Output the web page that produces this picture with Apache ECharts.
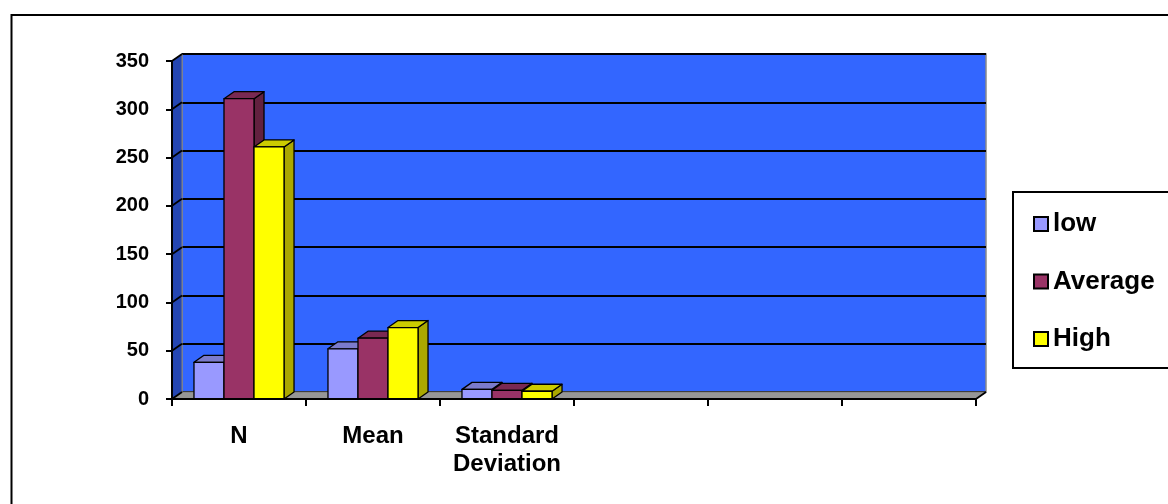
<!DOCTYPE html>
<html>
<head>
<meta charset="utf-8">
<script src="https://cdn.jsdelivr.net/npm/echarts@6/dist/echarts.min.js"></script>
<style>
  html, body { margin: 0; padding: 0; background: #ffffff; }
  #chart { width: 1168px; height: 504px; }
</style>
</head>
<body>
<div id="chart"></div>
<script>
// Categories on the horizontal axis (three used, three empty slots)
const categories = ['N', 'Mean', 'Standard\nDeviation', '', '', ''];

// Series values, one per used category
const seriesNames = ['low', 'Average', 'High'];
const lowValues = [38, 52, 10];
const averageValues = [311, 63, 9];
const highValues = [261, 74, 8];

// Value axis range
const yMin = 0;
const yMax = 350;
const yStep = 50;

// Face colours of each 3D column: front, top, side
const palettes = [
  { front: '#9999ff', top: '#7b7bcc', side: '#6666b0' },
  { front: '#993366', top: '#7a2952', side: '#62213f' },
  { front: '#ffff00', top: '#cccc00', side: '#aaa800' }
];

// Depth offset used for the pseudo-3D walls and columns
const DX = 10;
const DY = -7;
const BAR_RATIO = 0.224;
const FONT = 'Liberation Sans, Arial, sans-serif';

const chart = echarts.init(document.getElementById('chart'));

// Left side wall, floor and the gridline returns on the side wall
function renderWalls(params, api) {
  const cs = params.coordSys;
  const L = cs.x, T = cs.y, R = cs.x + cs.width, B = cs.y + cs.height;
  const children = [
    {
      type: 'polygon',
      shape: { points: [[L, T], [L + DX, T + DY], [L + DX, B + DY], [L, B]] },
      style: { fill: '#2446b3', stroke: '#808080', lineWidth: 1 }
    },
    {
      type: 'polygon',
      shape: { points: [[L, B], [R, B], [R + DX, B + DY], [L + DX, B + DY]] },
      style: { fill: '#969696', stroke: '#7a7a7a', lineWidth: 1 }
    }
  ];
  for (let v = yMin; v <= yMax; v += yStep) {
    const y = api.coord([0, v])[1];
    children.push({
      type: 'line',
      shape: { x1: L, y1: y, x2: L + DX, y2: y + DY },
      style: { stroke: '#000', lineWidth: 1.8 }
    });
  }
  children.push({
    type: 'line',
    shape: { x1: R, y1: B, x2: R + DX, y2: B + DY },
    style: { stroke: '#000', lineWidth: 1.8 }
  });
  return { type: 'group', children: children };
}

// One 3D column: side face, top face, then front face
function makeBarRenderer(slot, palette) {
  return function (params, api) {
    const cat = api.value(0);
    const val = api.value(1);
    const base = api.coord([cat, 0]);
    const head = api.coord([cat, val]);
    const band = api.size([1, 0])[0];
    const w = band * BAR_RATIO;
    const x0 = base[0] - 1.5 * w + slot * w;
    const x1 = x0 + w;
    const yT = head[1];
    const yB = base[1];
    const edge = { stroke: '#000', lineWidth: 1.3, lineJoin: 'round' };
    return {
      type: 'group',
      children: [
        {
          type: 'polygon',
          shape: { points: [[x1, yT], [x1 + DX, yT + DY], [x1 + DX, yB + DY], [x1, yB]] },
          style: Object.assign({ fill: palette.side }, edge)
        },
        {
          type: 'polygon',
          shape: { points: [[x0, yT], [x1, yT], [x1 + DX, yT + DY], [x0 + DX, yT + DY]] },
          style: Object.assign({ fill: palette.top }, edge)
        },
        {
          type: 'rect',
          shape: { x: x0, y: yT, width: w, height: yB - yT },
          style: Object.assign({ fill: palette.front }, edge)
        }
      ]
    };
  };
}

const valueSets = [lowValues, averageValues, highValues];

const barSeries = seriesNames.map(function (name, idx) {
  return {
    type: 'custom',
    name: name,
    xAxisIndex: 0,
    yAxisIndex: 0,
    z: 5,
    clip: false,
    itemStyle: { color: palettes[idx].front },
    renderItem: makeBarRenderer(idx, palettes[idx]),
    encode: { x: 0, y: 1 },
    data: valueSets[idx].map(function (v, i) { return [i, v]; })
  };
});

const option = {
  animation: false,
  backgroundColor: '#ffffff',
  graphic: [
    {
      type: 'rect',
      shape: { x: 11.5, y: 15, width: 1200, height: 520 },
      style: { fill: 'none', stroke: '#000', lineWidth: 2 },
      z: 0
    }
  ],
  grid: [
    { left: 172, top: 61, right: 192, bottom: 105, outerBoundsMode: 'none' },
    {
      left: 182, top: 54, right: 182, bottom: 112, outerBoundsMode: 'none',
      show: true, backgroundColor: '#3366ff', borderColor: '#8a8a8a', borderWidth: 1.5
    }
  ],
  xAxis: [
    {
      type: 'category',
      gridIndex: 0,
      data: categories,
      z: 10,
      axisLine: { show: true, lineStyle: { color: '#000', width: 2 } },
      axisTick: { show: true, length: 7, lineStyle: { color: '#000', width: 2 } },
      axisLabel: {
        interval: 0,
        margin: 23,
        color: '#000',
        fontFamily: FONT,
        fontWeight: 'bold',
        fontSize: 24,
        lineHeight: 28
      },
      splitLine: { show: false }
    },
    {
      type: 'category',
      gridIndex: 1,
      data: categories,
      show: false
    }
  ],
  yAxis: [
    {
      type: 'value',
      gridIndex: 0,
      min: yMin,
      max: yMax,
      interval: yStep,
      z: 10,
      axisLine: { show: true, lineStyle: { color: '#000', width: 2 } },
      axisTick: { show: true, length: 6, lineStyle: { color: '#000', width: 2 } },
      axisLabel: {
        margin: 23,
        color: '#000',
        fontFamily: FONT,
        fontWeight: 'bold',
        fontSize: 20
      },
      splitLine: { show: false }
    },
    {
      type: 'value',
      gridIndex: 1,
      min: yMin,
      max: yMax,
      interval: yStep,
      axisLine: { show: false },
      axisTick: { show: false },
      axisLabel: { show: false },
      splitLine: { show: true, lineStyle: { color: '#000', width: 1.8 } }
    }
  ],
  legend: {
    orient: 'vertical',
    left: 1013,
    top: 192,
    padding: [17, 20, 14, 20],
    backgroundColor: '#ffffff',
    borderColor: '#000',
    borderWidth: 2,
    borderRadius: 0,
    itemWidth: 14,
    itemHeight: 14,
    itemGap: 27.5,
    icon: 'rect',
    selectedMode: false,
    itemStyle: { borderColor: '#000', borderWidth: 2 },
    textStyle: {
      color: '#000',
      fontFamily: FONT,
      fontWeight: 'bold',
      fontSize: 26,
      lineHeight: 30
    },
    data: seriesNames
  },
  series: [
    {
      type: 'custom',
      name: 'walls',
      xAxisIndex: 0,
      yAxisIndex: 0,
      z: 1,
      silent: true,
      clip: false,
      renderItem: renderWalls,
      data: [[0, 0]]
    }
  ].concat(barSeries)
};

chart.setOption(option);
</script>
</body>
</html>
